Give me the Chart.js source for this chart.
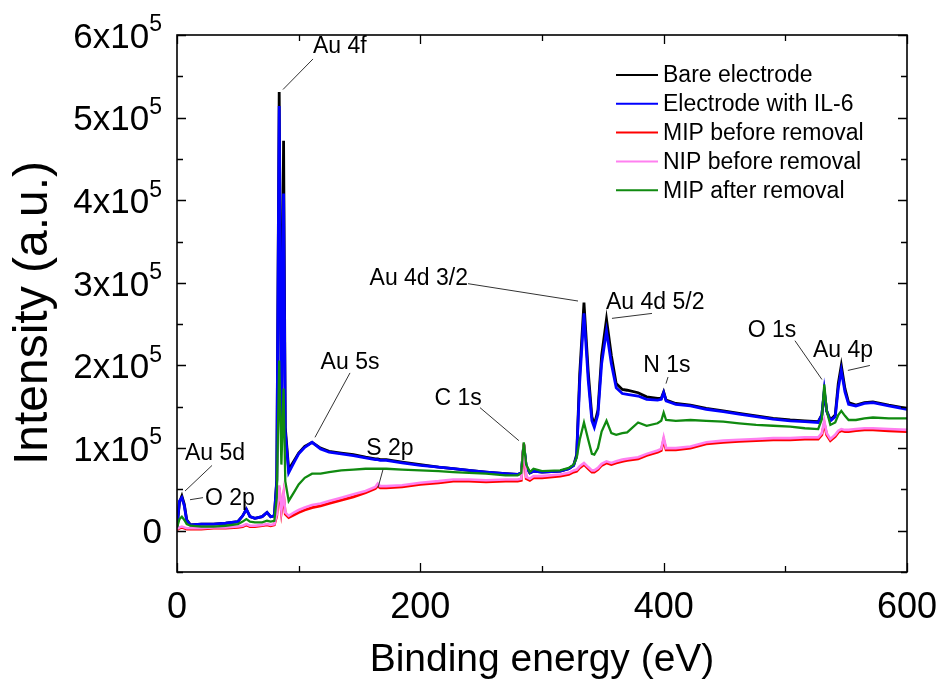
<!DOCTYPE html>
<html>
<head>
<meta charset="utf-8">
<script src="https://cdn.jsdelivr.net/npm/chart.js@4.4.1/dist/chart.umd.min.js"></script>
<style>
  html, body { margin: 0; padding: 0; background: #fff; }
</style>
</head>
<body>
<canvas id="xps" width="940" height="684"></canvas>
<script>
// XPS survey spectra — intensity in thousands of counts
const energy = [
  0, 2, 4, 6, 8, 11, 20, 30, 40, 50, 54, 57, 60, 64, 70, 74, 77, 80,
  82, 84, 85.8, 87.6, 89, 91.8, 96, 100, 105, 111, 118, 125,
  135, 145, 155, 163, 165, 167, 172, 185, 200, 215, 227, 240, 254, 270, 280,
  283, 285, 287, 290, 293, 300, 315, 322, 326,
  328.5, 331, 334.5, 338, 341, 343, 346, 349, 353, 357, 361, 366, 370, 379, 386, 395, 398, 400, 402, 410,
  422, 435, 449, 462, 476, 490, 504, 516, 527,
  530, 532, 534, 537, 541, 543.5, 546, 549, 552, 558, 565, 572, 585, 600,
];

const bare = [
  4, 34, 42, 32, 13, 7, 8, 8, 9, 11, 18, 26, 17, 15, 17, 22, 17, 18,
  62, 531, 140, 472, 125, 74, 84, 94, 102, 107, 100, 96,
  94, 92, 89, 87, 87, 86, 86, 83, 80, 77, 75, 73, 71, 69, 68,
  70, 104, 78, 70, 72, 71, 72, 75, 79,
  92, 190, 276, 192, 138, 128, 146, 212, 256, 212, 178, 171, 170, 167, 162, 160, 160, 168, 158, 154,
  152, 148, 145, 142, 139, 136, 134, 133, 132,
  140, 168, 145, 134, 140, 178, 200, 172, 155, 152, 155, 156, 152, 148,
];

const withIL6 = [
  4, 36, 40, 30, 12, 7, 8, 8, 9, 11, 18, 26, 17, 15, 17, 22, 17, 18,
  60, 514, 130, 408, 120, 70, 82, 93, 101, 107, 99, 95,
  93, 91, 88, 86, 86, 85, 85, 82, 79, 77, 75, 73, 71, 69, 68,
  70, 104, 78, 70, 72, 71, 72, 75, 79,
  90, 180, 263, 182, 133, 125, 141, 202, 242, 202, 173, 166, 165, 163, 159, 158, 159, 167, 157, 153,
  151, 147, 144, 141, 138, 135, 133, 132, 131,
  140, 170, 145, 133, 138, 172, 194, 168, 153, 151, 154, 155, 151, 147,
];

const mipBefore = [
  1, 3, 4, 3, 2, 2, 2, 3, 3, 4, 5, 7, 5, 5, 6, 7, 6, 7,
  18, 52, 23, 43, 20, 16, 19, 22, 25, 28, 30, 33,
  37, 41, 46, 51, 54, 52, 52, 53, 56, 58, 60, 60, 59, 60, 60,
  61, 105, 63, 61, 64, 64, 66, 68, 71,
  72, 76, 80, 75, 71, 71, 74, 79, 82, 80, 82, 84, 85, 87, 91, 95, 97, 110, 98, 98,
  100, 105, 107, 108, 109, 110, 110, 111, 111,
  116, 130, 116, 109, 114, 119, 121, 120, 120, 121, 122, 122, 121, 120,
];

const nipBefore = [
  2, 4, 5, 4, 3, 3, 3, 4, 4, 5, 6, 8, 6, 6, 7, 8, 7, 8,
  20, 55, 25, 46, 22, 18, 22, 25, 28, 31, 33, 36,
  40, 44, 48, 53, 57, 54, 54, 55, 58, 60, 62, 62, 61, 62, 62,
  63, 106, 65, 63, 66, 66, 68, 70, 73,
  74, 78, 82, 77, 73, 73, 76, 81, 84, 82, 84, 86, 87, 89, 93, 97, 99, 113, 100, 100,
  102, 107, 109, 110, 111, 112, 112, 113, 113,
  118, 133, 118, 111, 116, 121, 123, 122, 122, 123, 124, 124, 123, 122,
];

const mipAfter = [
  4, 14, 17, 13, 8, 6, 5, 5, 6, 8, 11, 14, 11, 10, 10, 12, 11, 12,
  40, 206, 80, 172, 60, 36, 46, 56, 64, 69, 69, 71,
  73, 74, 75, 75, 75, 75, 75, 74, 73, 72, 71, 70, 69, 67, 67,
  70, 107, 80, 71, 75, 72, 73, 76, 80,
  88, 110, 131, 110, 93, 92, 100, 120, 133, 118, 116, 118, 119, 131, 127, 130, 133, 143, 134, 133,
  134, 133, 132, 130, 128, 127, 126, 124, 123,
  135, 177, 145, 128, 131, 140, 145, 139, 134, 134, 136, 137, 136, 136,
];

const xTicks = [0, 200, 400, 600];
const yTicks = [0, 1e5, 2e5, 3e5, 4e5, 5e5, 6e5];

// peak labels: text anchor and leader line, in (eV, thousand counts)
const notes = [
  { text: 'Au 4f', at: [111.8, 587], align: 'left', line: [[87.1, 534], [111.8, 571]] },
  { text: 'Au 4d 3/2', at: [239.2, 306], align: 'right', line: [[239.2, 299], [329.6, 278]] },
  { text: 'Au 4d 5/2', at: [352.6, 277], align: 'left', line: [[357.5, 257], [390.4, 263]] },
  { text: 'N 1s', at: [402.7, 201], align: 'center', line: [[403.6, 186], [401.9, 178]] },
  { text: 'O 1s', at: [489, 243], align: 'center', line: [[507.9, 230], [530.1, 183]] },
  { text: 'Au 4p', at: [522.7, 219], align: 'left', line: [[551.4, 194], [569.5, 200]] },
  { text: 'C 1s', at: [231, 161], align: 'center', line: [[249, 149], [281, 109]] },
  { text: 'Au 5s', at: [142.2, 205], align: 'center', line: [[142.2, 191], [113.4, 113]] },
  { text: 'S 2p', at: [175, 100], align: 'center', line: [[169.3, 74], [165.2, 52]] },
  { text: 'Au 5d', at: [6.6, 94], align: 'left', line: [[6.6, 48], [28.8, 79]] },
  { text: 'O 2p', at: [23, 40], align: 'left', line: [[10.7, 37.5], [21.4, 40]] },
];

const FONT = '"Liberation Sans", Arial, sans-serif';

const series = [
  { label: 'Bare electrode', values: bare, color: '#000000', order: 5, width: 2.8 },
  { label: 'Electrode with IL-6', values: withIL6, color: '#0000ff', order: 4, width: 2.8 },
  { label: 'MIP before removal', values: mipBefore, color: '#ff0000', order: 3, width: 2.8 },
  { label: 'NIP before removal', values: nipBefore, color: '#ff80f0', order: 2, width: 2.6 },
  { label: 'MIP after removal', values: mipAfter, color: '#108a10', order: 1, width: 2.3 },
];

const framePlugin = {
  id: 'frame',
  afterDraw(chart) {
    const { ctx, chartArea: a, scales: { x, y } } = chart;
    ctx.save();

    // box
    ctx.strokeStyle = '#000';
    ctx.lineWidth = 1.6;
    ctx.strokeRect(a.left, a.top, a.right - a.left, a.bottom - a.top);

    // inward ticks on all four sides
    ctx.lineWidth = 1.3;
    ctx.beginPath();
    const xStep = xTicks[1] - xTicks[0];
    for (let v = x.min; v <= x.max; v += xStep / 2) {
      const px = Math.round(x.getPixelForValue(v)) + 0.5;
      const len = v % xStep === 0 ? 9 : 6;
      ctx.moveTo(px, a.bottom); ctx.lineTo(px, a.bottom - len);
      ctx.moveTo(px, a.top); ctx.lineTo(px, a.top + len);
    }
    const yStep = yTicks[1] - yTicks[0];
    for (let v = y.min; v <= y.max; v += yStep / 2) {
      const py = Math.round(y.getPixelForValue(v)) + 0.5;
      const len = v % yStep === 0 ? 9 : 6;
      ctx.moveTo(a.left, py); ctx.lineTo(a.left + len, py);
      ctx.moveTo(a.right, py); ctx.lineTo(a.right - len, py);
    }
    ctx.stroke();

    // y tick labels with superscript exponent
    ctx.fillStyle = '#000';
    ctx.textBaseline = 'middle';
    yTicks.forEach((v) => {
      const py = y.getPixelForValue(v) + 3;
      const right = 162;
      if (v === 0) {
        ctx.font = '35px ' + FONT;
        ctx.textAlign = 'right';
        ctx.fillText('0', right, py);
        return;
      }
      ctx.font = '23px ' + FONT;
      const supW = ctx.measureText('5').width;
      ctx.textAlign = 'left';
      ctx.fillText('5', right - supW, py - 13);
      ctx.font = '35px ' + FONT;
      ctx.textAlign = 'right';
      ctx.fillText((v / 1e5) + 'x10', right - supW, py);
    });

    // y title
    ctx.save();
    ctx.translate(34, 313);
    ctx.rotate(-Math.PI / 2);
    ctx.font = '48px ' + FONT;
    ctx.textAlign = 'center';
    ctx.fillText('Intensity (a.u.)', 0, 0);
    ctx.restore();

    // legend
    ctx.font = '23px ' + FONT;
    ctx.textAlign = 'left';
    series.forEach((s, i) => {
      const ly = 75 + i * 28.8;
      ctx.strokeStyle = s.color;
      ctx.lineWidth = 2;
      ctx.beginPath();
      ctx.moveTo(616, ly); ctx.lineTo(658, ly);
      ctx.stroke();
      ctx.fillText(s.label, 663, ly + 1);
    });

    // peak labels
    const px = (p) => [x.getPixelForValue(p[0]), y.getPixelForValue(p[1] * 1e3)];
    ctx.strokeStyle = '#333';
    ctx.lineWidth = 1;
    notes.forEach((n) => {
      const [p0, p1] = n.line.map(px);
      ctx.beginPath();
      ctx.moveTo(p0[0], p0[1]); ctx.lineTo(p1[0], p1[1]);
      ctx.stroke();
      const [tx, ty] = px(n.at);
      ctx.textAlign = n.align;
      ctx.fillText(n.text, tx, ty + 1);
    });

    ctx.restore();
  },
};

new Chart(document.getElementById('xps'), {
  type: 'line',
  data: {
    datasets: series.map((s) => ({
      label: s.label,
      data: energy.map((e, i) => ({ x: e, y: s.values[i] * 1e3 })),
      borderColor: s.color,
      backgroundColor: s.color,
      borderWidth: s.width,
      pointRadius: 0,
      tension: 0,
      order: s.order,
    })),
  },
  options: {
    responsive: false,
    animation: false,
    layout: { padding: { left: 0, right: 33, top: 35, bottom: 0 } },
    plugins: { legend: { display: false }, tooltip: { enabled: false } },
    scales: {
      x: {
        type: 'linear',
        min: 0,
        max: 600,
        afterBuildTicks: (s) => { s.ticks = xTicks.map((v) => ({ value: v })); },
        afterFit: (s) => { s.height = 112; s.paddingLeft = 0; s.paddingRight = 0; },
        grid: { display: false, drawTicks: false },
        border: { display: false },
        ticks: { color: '#000', padding: 14, font: { family: FONT, size: 36 } },
        title: {
          display: true,
          text: 'Binding energy (eV)',
          color: '#000',
          padding: { top: 0, bottom: 0 },
          font: { family: FONT, size: 39 },
        },
      },
      y: {
        type: 'linear',
        min: -5e4,
        max: 6e5,
        afterFit: (s) => { s.width = 177; },
        grid: { display: false, drawTicks: false },
        border: { display: false },
        ticks: { display: false },
      },
    },
  },
  plugins: [framePlugin],
});
</script>
</body>
</html>
